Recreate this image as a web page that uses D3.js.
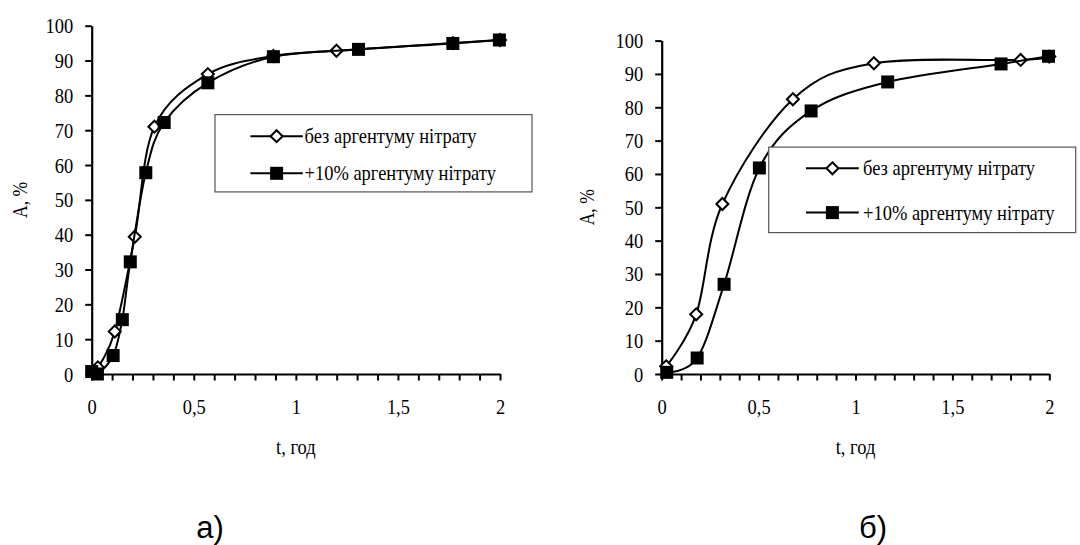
<!DOCTYPE html>
<html>
<head>
<meta charset="utf-8">
<script src="https://cdn.jsdelivr.net/npm/d3@7"></script>
<style>
  body { margin: 0; background: #fff; }
  svg { display: block; }
  .serif { font-family: "Liberation Serif", "Times New Roman", "DejaVu Serif", serif; }
  .sans  { font-family: "Liberation Sans", Arial, sans-serif; }
</style>
</head>
<body>
<svg id="chart" width="1080" height="545"></svg>
<script>
// ---- Data: panel а) ----
const aTimePlain   = [0.03, 0.113, 0.211, 0.307, 0.569, 0.89, 1.199, 1.77, 2.0];
const aValuePlain  = [1.9, 12.2, 39.4, 71.0, 86.1, 91.3, 92.8, 95.0, 95.9];
const aTimeSilver  = [0, 0.028, 0.105, 0.150, 0.189, 0.265, 0.355, 0.569, 0.890, 1.307, 1.769, 1.997];
const aValueSilver = [0.7, 0, 5.3, 15.6, 32.2, 57.8, 72.2, 83.6, 91.1, 93.2, 94.9, 95.9];

// ---- Data: panel б) ----
const bTimePlain   = [0.023, 0.178, 0.313, 0.677, 1.095, 1.852, 2.0];
const bValuePlain  = [2.3, 17.9, 51.0, 82.4, 93.2, 94.2, 95.2];
const bTimeSilver  = [0.026, 0.183, 0.322, 0.504, 0.771, 1.166, 1.751, 1.996];
const bValueSilver = [0.5, 4.8, 26.9, 61.8, 78.9, 87.6, 93.0, 95.3];

// ---- Axis ticks and texts ----
const xTickValues  = d3.range(21).map(i => i / 10);
const xLabelValues = [0, 0.5, 1, 1.5, 2];
const yTickValues  = d3.range(0, 101, 10);
const legendLabels = ["без аргентуму нітрату", "+10% аргентуму нітрату"];
const panelLabels  = ["а)", "б)"];
const xTitle = "t, год";
const yTitle = "A, %";

const sx = 0.88; // horizontal squeeze of serif glyphs

const svg = d3.select("#chart");

const panels = [
  {
    tPlain: aTimePlain, vPlain: aValuePlain, tSilver: aTimeSilver, vSilver: aValueSilver,
    x0: 91.7, x1: 500, y0: 374, y1: 25.7,
    yTitleX: 21,
    legend: { x: 215, y: 114.6, w: 317, h: 77.3, lineX0: 250.4, lineX1: 302.8, textX: 304.5, rows: [136.2, 173.3] },
    label: panelLabels[0], labelX: 210
  },
  {
    tPlain: bTimePlain, vPlain: bValuePlain, tSilver: bTimeSilver, vSilver: bValueSilver,
    x0: 661.7, x1: 1049.3, y0: 374, y1: 40.6,
    yTitleX: 588,
    legend: { x: 768.7, y: 147.1, w: 307, h: 85.5, lineX0: 806, lineX1: 858.8, textX: 863, rows: [168.3, 212.6] },
    label: panelLabels[1], labelX: 873
  }
];

function squeezedText(g, x, y, str, size, anchor) {
  return g.append("text")
    .attr("class", "serif")
    .attr("transform", `translate(${x},${y}) scale(${sx},1)`)
    .attr("text-anchor", anchor || "start")
    .style("font-size", size + "px")
    .attr("fill", "#000")
    .text(str);
}

function diamond(sel, size) {
  sel.attr("d", `M0,${-size}L${size},0L0,${size}L${-size},0Z`);
}

panels.forEach(p => {
  const g = svg.append("g");
  const x = d3.scaleLinear().domain([0, 2]).range([p.x0, p.x1]);
  const y = d3.scaleLinear().domain([0, 100]).range([p.y0, p.y1]);

  // y axis
  const yAxis = g.append("g")
    .attr("transform", `translate(${p.x0},0)`)
    .call(d3.axisLeft(y).tickValues(yTickValues).tickSize(6.5).tickSizeOuter(0));
  yAxis.attr("font-family", null).attr("font-size", null);
  yAxis.selectAll("text")
    .attr("x", null).attr("dy", null)
    .attr("class", "serif")
    .attr("transform", `translate(-18.4,7) scale(${sx},1)`)
    .style("font-size", "21px").attr("fill", "#000");

  // x axis
  const xAxis = g.append("g")
    .attr("transform", `translate(0,${p.y0})`)
    .call(d3.axisBottom(x).tickValues(xTickValues).tickSize(6.5).tickSizeOuter(0)
      .tickFormat(d => xLabelValues.some(v => Math.abs(v - d) < 1e-9) ? String(d).replace(".", ",") : ""));
  xAxis.attr("font-family", null).attr("font-size", null);
  xAxis.selectAll("text")
    .attr("y", null).attr("dy", null)
    .attr("class", "serif")
    .attr("transform", `translate(0,40) scale(${sx},1)`)
    .style("font-size", "21px").attr("fill", "#000");

  [yAxis, xAxis].forEach(a => {
    a.select(".domain").attr("stroke", "#000").attr("stroke-width", 2.2);
    a.selectAll(".tick line").attr("stroke", "#000").attr("stroke-width", 2);
  });

  // curves
  const line = d3.line()
    .x(d => x(d[0])).y(d => y(d[1]))
    .curve(d3.curveCardinal.tension(0));

  const plain  = p.tPlain.map((t, i) => [t, p.vPlain[i]]);
  const silver = p.tSilver.map((t, i) => [t, p.vSilver[i]]);

  g.append("path").datum(plain).attr("d", line)
    .attr("fill", "none").attr("stroke", "#000").attr("stroke-width", 2);
  g.selectAll(".mk-plain").data(plain).join("path")
    .attr("class", "mk-plain")
    .call(diamond, 6)
    .attr("transform", d => `translate(${x(d[0])},${y(d[1])})`)
    .attr("fill", "#fff").attr("stroke", "#000").attr("stroke-width", 2);

  g.append("path").datum(silver).attr("d", line)
    .attr("fill", "none").attr("stroke", "#000").attr("stroke-width", 2);
  g.selectAll(".mk-silver").data(silver).join("rect")
    .attr("class", "mk-silver")
    .attr("x", d => x(d[0]) - 6.5).attr("y", d => y(d[1]) - 6.5)
    .attr("width", 13).attr("height", 13)
    .attr("fill", "#000");

  // legend
  const L = p.legend;
  const lg = g.append("g");
  lg.append("rect")
    .attr("x", L.x).attr("y", L.y).attr("width", L.w).attr("height", L.h)
    .attr("fill", "#fff").attr("stroke", "#555").attr("stroke-width", 1.2);
  L.rows.forEach((ry, i) => {
    lg.append("line")
      .attr("x1", L.lineX0).attr("x2", L.lineX1).attr("y1", ry).attr("y2", ry)
      .attr("stroke", "#000").attr("stroke-width", 2);
    const cx = (L.lineX0 + L.lineX1) / 2;
    if (i === 0) {
      lg.append("path").call(diamond, 6)
        .attr("transform", `translate(${cx},${ry})`)
        .attr("fill", "#fff").attr("stroke", "#000").attr("stroke-width", 2);
    } else {
      lg.append("rect")
        .attr("x", cx - 6.5).attr("y", ry - 6.5).attr("width", 13).attr("height", 13)
        .attr("fill", "#000");
    }
    squeezedText(lg, L.textX, ry + 7, legendLabels[i], 21, "start");
  });

  // axis titles
  squeezedText(g, (p.x0 + p.x1) / 2, 454, xTitle, 21, "middle");
  g.append("text")
    .attr("class", "serif")
    .attr("transform", `translate(${p.yTitleX + 6},${(p.y0 + p.y1) / 2}) rotate(-90) scale(${sx},1)`)
    .attr("text-anchor", "middle")
    .style("font-size", "20px").attr("fill", "#000")
    .text(yTitle);

  // panel caption
  g.append("text")
    .attr("class", "sans")
    .attr("x", p.labelX).attr("y", 538)
    .attr("text-anchor", "middle")
    .style("font-size", "31px").attr("fill", "#000")
    .text(p.label);
});
</script>
</body>
</html>
